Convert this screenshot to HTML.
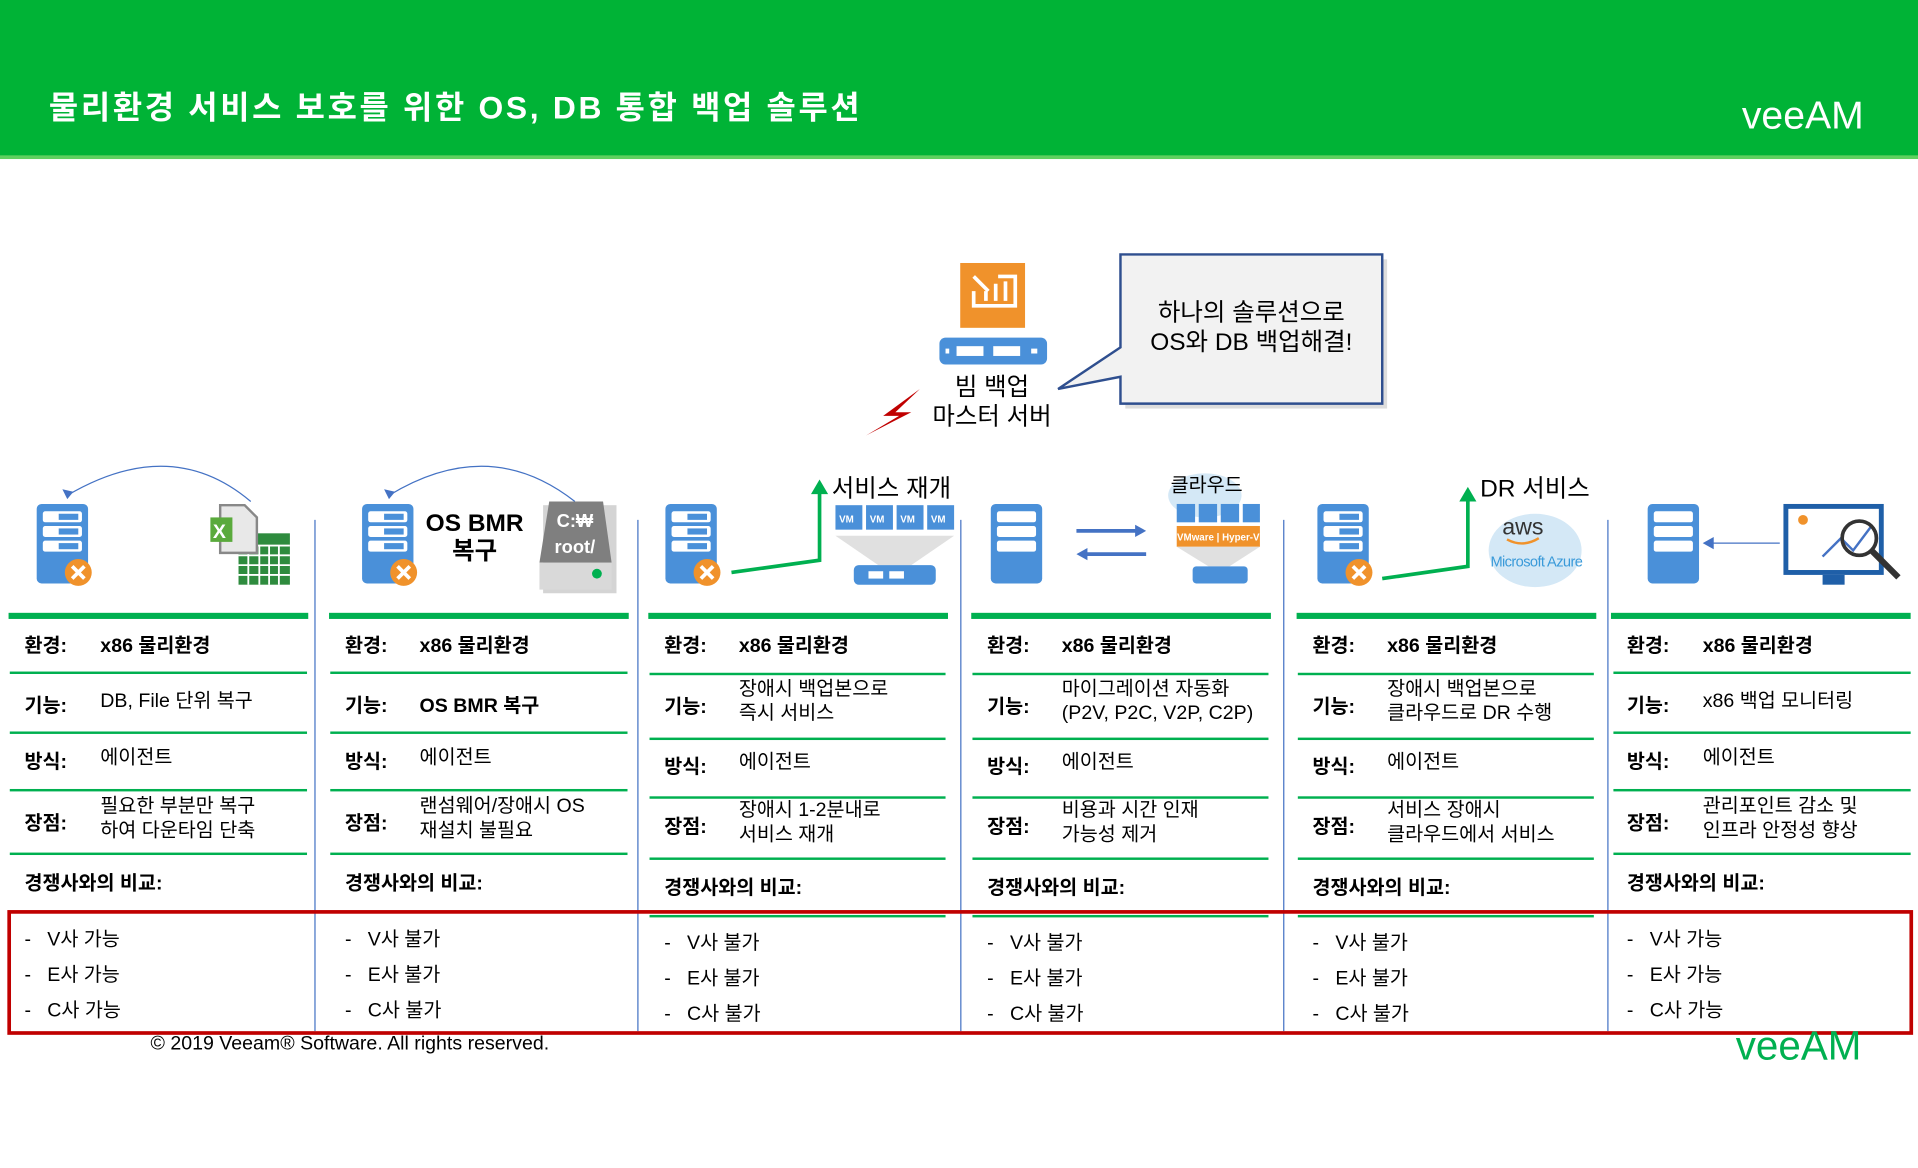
<!DOCTYPE html>
<html><head><meta charset="utf-8">
<style>
html,body{margin:0;padding:0;width:1918px;height:1168px;overflow:hidden;background:#fff}
#w{position:absolute;left:0;top:0;width:1568px;height:955px;transform:scale(1.22321);transform-origin:0 0;font-family:"Liberation Sans","Noto Sans CJK KR",sans-serif;color:#000}
.a{position:absolute;white-space:nowrap}
.hd{position:absolute;left:0;top:0;width:1568px;height:127px;background:#00b336;border-bottom:3px solid #5fd05f}
.lb{font-weight:bold;font-size:16px;margin-top:-3px}
.v{font-size:16px;line-height:20px;margin-top:-2px}
.it{font-size:16px;margin-top:-3px}
.gl{position:absolute;height:2px;background:#00b050}
.gt{position:absolute;height:5px;background:#00b050}
.sep{position:absolute;width:1px;background:#4472c4;top:425px;height:418px}
</style></head><body><div id="w">
<div class="hd"></div>
<div class="a" style="left:40px;top:68px;font-size:26px;font-weight:bold;color:#fff;letter-spacing:2.2px">물리환경 서비스 보호를 위한 OS, DB 통합 백업 솔루션</div>
<div class="a" style="left:1424px;top:76px;font-size:32px;color:#fff;letter-spacing:0px">veeAM</div>

<svg class="a" style="left:0;top:0" width="1568" height="955">
 <rect x="920" y="212" width="214" height="122" fill="#bbb" opacity="0.5"/>
 <path d="M916,208 H1130 V330 H916 V308 L865,318 L916,284 Z" fill="#f2f2f2" stroke="#2f4f8f" stroke-width="2"/>
 <rect x="785" y="215" width="53" height="53" fill="#f0922b"/>
 <path d="M796,226 L808,238 M796,238 V250 H830 V226 H816 M806,238 V246 M814,232 V246 M822,230 V246" stroke="#fff" stroke-width="3" fill="none"/>
 <rect x="768" y="276" width="88" height="22" rx="5" fill="#4a90d9"/>
 <rect x="782" y="283" width="22" height="8" fill="#fff"/><rect x="812" y="283" width="22" height="8" fill="#fff"/>
 <rect x="773" y="285" width="3" height="4" fill="#fff"/><rect x="843" y="285" width="5" height="4" fill="#fff"/>
 <path d="M752,318 L722,340 L735,340 L708,356 L745,337 L732,337 Z" fill="#c00000"/>
 <path d="M205,410 Q140,355 55,405" stroke="#4472c4" fill="none"/>
 <path d="M55,408 l-4,-8 l9,2 Z" fill="#4472c4"/>
 <path d="M470,410 Q400,355 318,405" stroke="#4472c4" fill="none"/>
 <path d="M318,408 l-4,-8 l9,2 Z" fill="#4472c4"/>
 <g id="srv">
  <rect x="30" y="412" width="42" height="65" rx="4" fill="#4a90d9"/>
  <rect x="35" y="418" width="32" height="9" rx="2" fill="#fff"/><rect x="35" y="430" width="32" height="9" rx="2" fill="#fff"/><rect x="35" y="442" width="32" height="9" rx="2" fill="#fff"/>
  <rect x="48" y="420" width="16" height="5" fill="#4a90d9"/><rect x="48" y="432" width="16" height="5" fill="#4a90d9"/><rect x="48" y="444" width="16" height="5" fill="#4a90d9"/>
  <circle cx="64" cy="468" r="11" fill="#f0922b"/>
  <path d="M59,463 L69,473 M69,463 L59,473" stroke="#fff" stroke-width="3"/>
 </g>
 <use href="#srv" x="266"/><use href="#srv" x="514"/><use href="#srv" x="1047"/>
 <g>
  <rect x="810" y="412" width="42" height="65" rx="4" fill="#4a90d9"/>
  <rect x="815" y="418" width="32" height="9" rx="2" fill="#fff"/><rect x="815" y="430" width="32" height="9" rx="2" fill="#fff"/><rect x="815" y="442" width="32" height="9" rx="2" fill="#fff"/>
  <rect x="1347" y="412" width="42" height="65" rx="4" fill="#4a90d9"/>
  <rect x="1352" y="418" width="32" height="9" rx="2" fill="#fff"/><rect x="1352" y="430" width="32" height="9" rx="2" fill="#fff"/><rect x="1352" y="442" width="32" height="9" rx="2" fill="#fff"/>
 </g>
 <rect x="195" y="436" width="42" height="42" fill="#2e8b3e"/>
 <path d="M195,446 H237 M195,454 H237 M195,462 H237 M195,470 H237 M203,446 V478 M212,446 V478 M220,446 V478 M228,446 V478" stroke="#fff" stroke-width="1.5"/>
 <path d="M180,413 H200 L210,423 V452 H180 Z" fill="#e8e8e8" stroke="#888" stroke-width="2"/>
 <rect x="172" y="423" width="18" height="20" fill="#5aaa3c"/>
 <text x="174" y="440" font-size="16" font-weight="bold" fill="#fff" font-family="Liberation Sans">X</text>
 <rect x="444" y="413" width="60" height="72" fill="#aaa" opacity="0.5"/>
 <path d="M449,410 H493 L500,460 H441 Z" fill="#7f7f7f"/>
 <rect x="441" y="460" width="59" height="22" fill="#d9d9d9"/>
 <circle cx="488" cy="469" r="4" fill="#00b050"/>
 <text x="470" y="431" font-size="15" font-weight="bold" fill="#fff" text-anchor="middle" font-family="Liberation Sans">C:₩</text>
 <text x="470" y="452" font-size="15" font-weight="bold" fill="#fff" text-anchor="middle" font-family="Liberation Sans">root/</text>
 <path d="M598,468 L670,458 V400" stroke="#00b050" stroke-width="3" fill="none"/>
 <path d="M663,404 L670,392 L677,404 Z" fill="#00b050"/>
 <g fill="#4a90d9"><rect x="683" y="413" width="22" height="20"/><rect x="708" y="413" width="22" height="20"/><rect x="733" y="413" width="22" height="20"/><rect x="758" y="413" width="22" height="20"/></g>
 <g font-size="8" fill="#fff" font-family="Liberation Sans" font-weight="bold"><text x="686" y="427">VM</text><text x="711" y="427">VM</text><text x="736" y="427">VM</text><text x="761" y="427">VM</text></g>
 <path d="M683,438 H780 L745,462 H718 Z" fill="#e0e0e0"/>
 <rect x="698" y="462" width="67" height="16" rx="4" fill="#4a90d9"/>
 <rect x="710" y="467" width="12" height="6" fill="#fff"/><rect x="727" y="467" width="12" height="6" fill="#fff"/>
 <path d="M880,434 H930" stroke="#4472c4" stroke-width="3"/><path d="M928,429 L937,434 L928,439 Z" fill="#4472c4"/>
 <path d="M887,453 H937" stroke="#4472c4" stroke-width="3"/><path d="M889,448 L880,453 L889,458 Z" fill="#4472c4"/>
 <ellipse cx="985" cy="405" rx="30" ry="18" fill="#d4e8f6"/>
 <g fill="#4a90d9"><rect x="962" y="412" width="15" height="15"/><rect x="980" y="412" width="15" height="15"/><rect x="998" y="412" width="15" height="15"/><rect x="1016" y="412" width="14" height="15"/></g>
 <rect x="962" y="430" width="68" height="17" fill="#f0922b"/>
 <text x="996" y="442" font-size="8" fill="#fff" text-anchor="middle" font-weight="bold" font-family="Liberation Sans">VMware | Hyper-V</text>
 <path d="M962,447 H1030 L1005,463 H988 Z" fill="#e0e0e0"/>
 <rect x="975" y="463" width="45" height="14" rx="3" fill="#4a90d9"/>
 <path d="M1130,473 L1200,463 V405" stroke="#00b050" stroke-width="3" fill="none"/>
 <path d="M1193,410 L1200,398 L1207,410 Z" fill="#00b050"/>
 <ellipse cx="1255" cy="450" rx="38" ry="30" fill="#d4e8f6"/>
 <text x="1245" y="437" font-size="19" fill="#333" text-anchor="middle" font-family="Liberation Sans">aws</text>
 <path d="M1232,441 Q1245,448 1258,440" stroke="#f0922b" stroke-width="2" fill="none"/>
 <text x="1256" y="463" font-size="12" fill="#3a9ad9" text-anchor="middle" font-family="Liberation Sans" letter-spacing="-0.5">Microsoft Azure</text>
 <path d="M1400,444 H1455" stroke="#4472c4"/><path d="M1401,439 L1392,444 L1401,449 Z" fill="#4472c4"/>
 <rect x="1458" y="412" width="82" height="58" fill="#1f5fa8"/>
 <rect x="1462" y="416" width="74" height="50" fill="#fff"/>
 <rect x="1490" y="470" width="18" height="8" fill="#1f5fa8"/>
 <path d="M1490,455 L1505,440 L1515,450 L1530,430" stroke="#4472c4" stroke-width="2" fill="none"/>
 <circle cx="1520" cy="440" r="14" fill="none" stroke="#333" stroke-width="3"/>
 <path d="M1530,450 L1552,472" stroke="#333" stroke-width="5"/>
 <circle cx="1474" cy="425" r="4" fill="#f0922b"/>
</svg>

<div class="a" style="left:916px;top:244px;width:214px;text-align:center;font-size:20px;line-height:24px">하나의 솔루션으로<br>OS와 DB 백업해결!</div>
<div class="a" style="left:751px;top:305px;width:120px;text-align:center;font-size:20px;line-height:24px">빔 백업<br>마스터 서버</div>
<div class="a" style="left:348px;top:417px;width:80px;text-align:center;font-size:20px;font-weight:bold;line-height:23px">OS BMR<br>복구</div>
<div class="a" style="left:680px;top:383px;font-size:20px">서비스 재개</div>
<div class="a" style="left:957px;top:383px;font-size:16px">클라우드</div>
<div class="a" style="left:1210px;top:383px;font-size:20px">DR 서비스</div>

<div class="sep" style="left:257px"></div><div class="sep" style="left:521px"></div><div class="sep" style="left:785px"></div><div class="sep" style="left:1049px"></div><div class="sep" style="left:1314px"></div>

<div class="gt" style="left:7px;top:501px;width:245px"></div>
<div class="gt" style="left:269px;top:501px;width:245px"></div>
<div class="gt" style="left:530px;top:501px;width:245px"></div>
<div class="gt" style="left:794px;top:501px;width:245px"></div>
<div class="gt" style="left:1060px;top:501px;width:245px"></div>
<div class="gt" style="left:1317px;top:501px;width:245px"></div>

<!-- col1 -->
<div class="gl" style="left:8px;top:549px;width:243px"></div><div class="gl" style="left:8px;top:598px;width:243px"></div><div class="gl" style="left:8px;top:645px;width:243px"></div><div class="gl" style="left:8px;top:697px;width:243px"></div>
<div class="a lb" style="left:20px;top:517px">환경:</div><div class="a lb" style="left:82px;top:517px">x86 물리환경</div>
<div class="a lb" style="left:20px;top:566px">기능:</div><div class="a v" style="left:82px;top:566px">DB, File 단위 복구</div>
<div class="a lb" style="left:20px;top:612px">방식:</div><div class="a v" style="left:82px;top:612px">에이전트</div>
<div class="a lb" style="left:20px;top:662px">장점:</div><div class="a v" style="left:82px;top:652px">필요한 부분만 복구<br>하여 다운타임 단축</div>
<div class="a lb" style="left:20px;top:711px">경쟁사와의 비교:</div>
<div class="a it" style="left:20px;top:757px">-&nbsp;&nbsp;&nbsp;V사 가능</div><div class="a it" style="left:20px;top:786px">-&nbsp;&nbsp;&nbsp;E사 가능</div><div class="a it" style="left:20px;top:815px">-&nbsp;&nbsp;&nbsp;C사 가능</div>

<!-- col2 -->
<div class="gl" style="left:270px;top:549px;width:243px"></div><div class="gl" style="left:270px;top:598px;width:243px"></div><div class="gl" style="left:270px;top:645px;width:243px"></div><div class="gl" style="left:270px;top:697px;width:243px"></div>
<div class="a lb" style="left:282px;top:517px">환경:</div><div class="a lb" style="left:343px;top:517px">x86 물리환경</div>
<div class="a lb" style="left:282px;top:566px">기능:</div><div class="a lb" style="left:343px;top:566px">OS BMR 복구</div>
<div class="a lb" style="left:282px;top:612px">방식:</div><div class="a v" style="left:343px;top:612px">에이전트</div>
<div class="a lb" style="left:282px;top:662px">장점:</div><div class="a v" style="left:343px;top:652px">랜섬웨어/장애시 OS<br>재설치 불필요</div>
<div class="a lb" style="left:282px;top:711px">경쟁사와의 비교:</div>
<div class="a it" style="left:282px;top:757px">-&nbsp;&nbsp;&nbsp;V사 불가</div><div class="a it" style="left:282px;top:786px">-&nbsp;&nbsp;&nbsp;E사 불가</div><div class="a it" style="left:282px;top:815px">-&nbsp;&nbsp;&nbsp;C사 불가</div>

<!-- col6 -->
<div class="gl" style="left:1319px;top:549px;width:243px"></div><div class="gl" style="left:1319px;top:598px;width:243px"></div><div class="gl" style="left:1319px;top:645px;width:243px"></div><div class="gl" style="left:1319px;top:697px;width:243px"></div>
<div class="a lb" style="left:1330px;top:517px">환경:</div><div class="a lb" style="left:1392px;top:517px">x86 물리환경</div>
<div class="a lb" style="left:1330px;top:566px">기능:</div><div class="a v" style="left:1392px;top:566px">x86 백업 모니터링</div>
<div class="a lb" style="left:1330px;top:612px">방식:</div><div class="a v" style="left:1392px;top:612px">에이전트</div>
<div class="a lb" style="left:1330px;top:662px">장점:</div><div class="a v" style="left:1392px;top:652px">관리포인트 감소 및<br>인프라 안정성 향상</div>
<div class="a lb" style="left:1330px;top:711px">경쟁사와의 비교:</div>
<div class="a it" style="left:1330px;top:757px">-&nbsp;&nbsp;&nbsp;V사 가능</div><div class="a it" style="left:1330px;top:786px">-&nbsp;&nbsp;&nbsp;E사 가능</div><div class="a it" style="left:1330px;top:815px">-&nbsp;&nbsp;&nbsp;C사 가능</div>

<!-- col3 -->
<div class="gl" style="left:531px;top:550px;width:242px"></div><div class="gl" style="left:531px;top:603px;width:242px"></div><div class="gl" style="left:531px;top:651px;width:242px"></div><div class="gl" style="left:531px;top:701px;width:242px"></div><div class="gl" style="left:531px;top:748px;width:242px"></div>
<div class="a lb" style="left:543px;top:517px">환경:</div><div class="a lb" style="left:604px;top:517px">x86 물리환경</div>
<div class="a lb" style="left:543px;top:567px">기능:</div><div class="a v" style="left:604px;top:556px">장애시 백업본으로<br>즉시 서비스</div>
<div class="a lb" style="left:543px;top:616px">방식:</div><div class="a v" style="left:604px;top:616px">에이전트</div>
<div class="a lb" style="left:543px;top:665px">장점:</div><div class="a v" style="left:604px;top:655px">장애시 1-2분내로<br>서비스 재개</div>
<div class="a lb" style="left:543px;top:715px">경쟁사와의 비교:</div>
<div class="a it" style="left:543px;top:760px">-&nbsp;&nbsp;&nbsp;V사 불가</div><div class="a it" style="left:543px;top:789px">-&nbsp;&nbsp;&nbsp;E사 불가</div><div class="a it" style="left:543px;top:818px">-&nbsp;&nbsp;&nbsp;C사 불가</div>

<!-- col4 -->
<div class="gl" style="left:795px;top:550px;width:242px"></div><div class="gl" style="left:795px;top:603px;width:242px"></div><div class="gl" style="left:795px;top:651px;width:242px"></div><div class="gl" style="left:795px;top:701px;width:242px"></div><div class="gl" style="left:795px;top:748px;width:242px"></div>
<div class="a lb" style="left:807px;top:517px">환경:</div><div class="a lb" style="left:868px;top:517px">x86 물리환경</div>
<div class="a lb" style="left:807px;top:567px">기능:</div><div class="a v" style="left:868px;top:556px">마이그레이션 자동화<br>(P2V, P2C, V2P, C2P)</div>
<div class="a lb" style="left:807px;top:616px">방식:</div><div class="a v" style="left:868px;top:616px">에이전트</div>
<div class="a lb" style="left:807px;top:665px">장점:</div><div class="a v" style="left:868px;top:655px">비용과 시간 인재<br>가능성 제거</div>
<div class="a lb" style="left:807px;top:715px">경쟁사와의 비교:</div>
<div class="a it" style="left:807px;top:760px">-&nbsp;&nbsp;&nbsp;V사 불가</div><div class="a it" style="left:807px;top:789px">-&nbsp;&nbsp;&nbsp;E사 불가</div><div class="a it" style="left:807px;top:818px">-&nbsp;&nbsp;&nbsp;C사 불가</div>

<!-- col5 -->
<div class="gl" style="left:1061px;top:550px;width:242px"></div><div class="gl" style="left:1061px;top:603px;width:242px"></div><div class="gl" style="left:1061px;top:651px;width:242px"></div><div class="gl" style="left:1061px;top:701px;width:242px"></div><div class="gl" style="left:1061px;top:748px;width:242px"></div>
<div class="a lb" style="left:1073px;top:517px">환경:</div><div class="a lb" style="left:1134px;top:517px">x86 물리환경</div>
<div class="a lb" style="left:1073px;top:567px">기능:</div><div class="a v" style="left:1134px;top:556px">장애시 백업본으로<br>클라우드로 DR 수행</div>
<div class="a lb" style="left:1073px;top:616px">방식:</div><div class="a v" style="left:1134px;top:616px">에이전트</div>
<div class="a lb" style="left:1073px;top:665px">장점:</div><div class="a v" style="left:1134px;top:655px">서비스 장애시<br>클라우드에서 서비스</div>
<div class="a lb" style="left:1073px;top:715px">경쟁사와의 비교:</div>
<div class="a it" style="left:1073px;top:760px">-&nbsp;&nbsp;&nbsp;V사 불가</div><div class="a it" style="left:1073px;top:789px">-&nbsp;&nbsp;&nbsp;E사 불가</div><div class="a it" style="left:1073px;top:818px">-&nbsp;&nbsp;&nbsp;C사 불가</div>

<div class="a" style="left:6px;top:744px;width:1552px;height:96px;border:3px solid #c00000"></div>

<div class="a" style="left:123px;top:845px;font-size:16px">© 2019 Veeam® Software. All rights reserved.</div>
<div class="a" style="left:1419px;top:836px;font-size:33px;color:#00b050;letter-spacing:0px">veeAM</div>
</div></body></html>
